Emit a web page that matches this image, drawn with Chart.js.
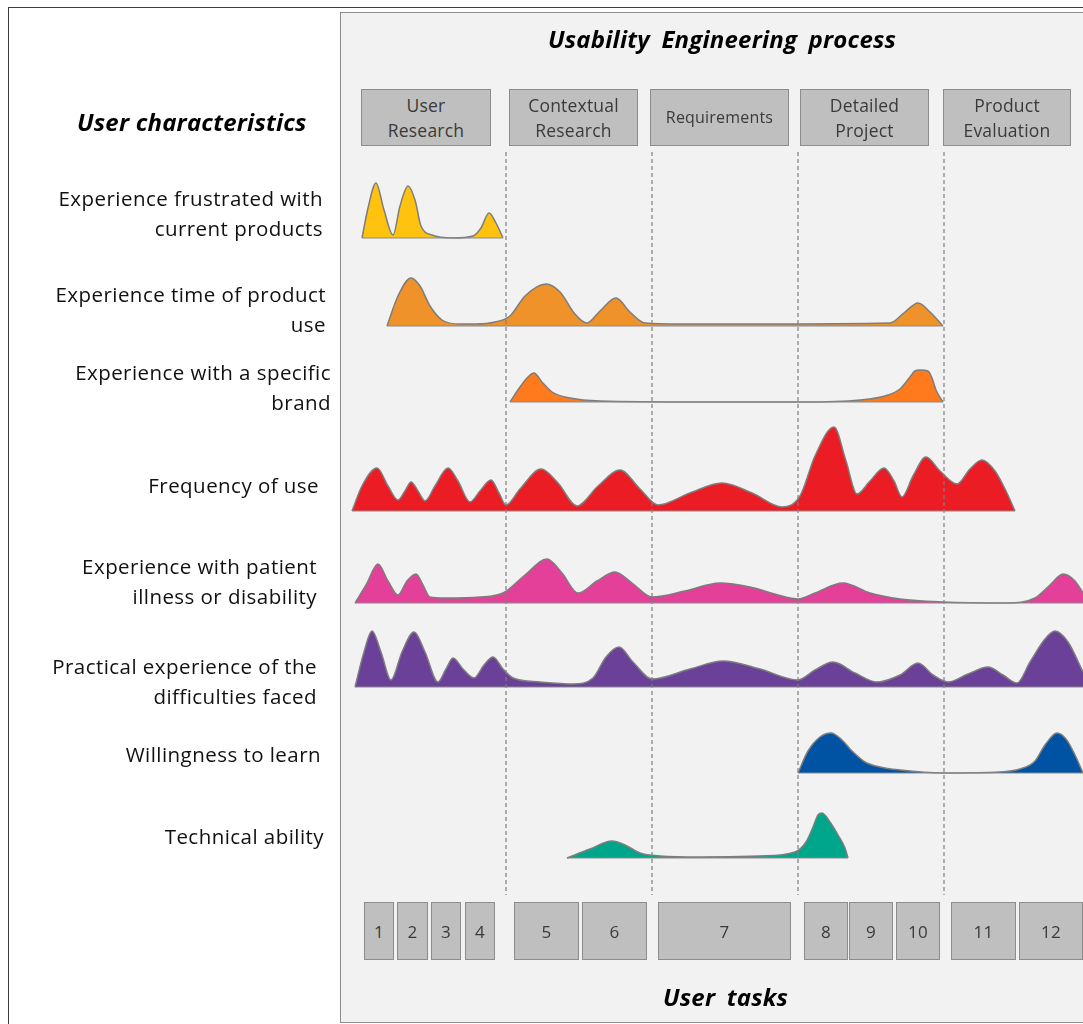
<!DOCTYPE html>
<html>
<head>
<meta charset="utf-8">
<script src="https://cdn.jsdelivr.net/npm/chart.js@4/dist/chart.umd.min.js"></script>
<style>
  body { margin: 0; background: #ffffff; font-family: "Open Sans", sans-serif; }
  #wrap { position: relative; width: 1083px; height: 1024px; overflow: hidden; }
  #frame { position: absolute; left: 8px; top: 7px; width: 1200px; height: 1100px;
           border-left: 1.5px solid #3c3c3c; border-top: 1.5px solid #3c3c3c; }
  #panel { position: absolute; left: 340px; top: 12px; width: 1000px; height: 1009px;
           background: #f2f2f2; border: 1.5px solid #8c8c8c; }
  canvas { position: absolute; left: 0; top: 0; }
  #overlay { position: absolute; left: 0; top: 0; width: 1083px; height: 1024px; }
  .box { position: absolute; box-sizing: border-box; background: #bfbfbf; border: 1.5px solid #8c8c8c;
         display: flex; align-items: center; justify-content: center; text-align: center;
         color: #3a3a3a; font-size: 17px; line-height: 25px; letter-spacing: 0.2px; white-space: pre-line; }
  .head { position: absolute; font-weight: bold; font-style: italic; font-size: 24px; color: #000;
          letter-spacing: 0.2px; word-spacing: 5px; white-space: nowrap; }
  .lab { position: absolute; right: 0; text-align: right; font-size: 20.5px; line-height: 30px; color: #111;
         letter-spacing: 0.45px; white-space: pre-line; }
</style>
</head>
<body>
<div id="wrap">
  <div id="frame"></div>
  <div id="panel"></div>
  <canvas id="c" width="1083" height="1024"></canvas>
  <div id="overlay">
    <div class="head" style="left:548px;top:22px;">Usability Engineering process</div>
    <div class="head" style="left:77px;top:105px;word-spacing:0;">User characteristics</div>
    <div class="head" style="left:663px;top:980px;">User tasks</div>
    <div class="lab" style="right:760px;top:183px;">Experience frustrated with
current products</div>
    <div class="lab" style="right:757px;top:279px;">Experience time of product
use</div>
    <div class="lab" style="right:752px;top:357px;">Experience with a specific
brand</div>
    <div class="lab" style="right:764px;top:470px;">Frequency of use</div>
    <div class="lab" style="right:766px;top:551px;">Experience with patient
illness or disability</div>
    <div class="lab" style="right:766px;top:651px;">Practical experience of the
difficulties faced</div>
    <div class="lab" style="right:762px;top:739px;">Willingness to learn</div>
    <div class="lab" style="right:759px;top:821px;">Technical ability</div>
  </div>
</div>
<script>
// x = position along the process, y = distance from the top (reversed axis)
const rowBaseline = [238, 326, 402, 511, 603, 687, 773, 858];
const ridgeColors = ["#ffc20e", "#f0922a", "#ff7a1c", "#ec1c24", "#e4409a", "#6a4098", "#0052a2", "#00a68c"];

const frustratedX = [362, 368, 376, 384, 393, 400, 408, 415, 421, 432, 453, 473, 481, 489, 496, 503];
const frustratedH = [0, 30, 55, 28, 3, 32, 52, 38, 12, 3, 0, 2, 10, 25, 15, 0];

const timeUseX = [387, 398, 411, 420, 430, 442, 460, 476, 495, 510, 525, 546, 560, 575, 587, 600, 616, 630, 645, 680, 760, 890, 905, 918, 930, 943];
const timeUseH = [0, 30, 48, 40, 20, 6, 2, 2, 4, 10, 30, 42, 34, 12, 3, 15, 28, 14, 3, 2, 2, 3, 14, 23, 14, 0];

const brandX = [510, 520, 527, 534, 542, 552, 570, 600, 700, 800, 860, 885, 900, 910, 915, 920, 928, 932, 936, 943];
const brandH = [0, 15, 24, 29, 20, 10, 4, 1, 0, 0, 2, 6, 13, 25, 31, 32, 31, 24, 12, 0];

const frequencyX = [352, 362, 377, 388, 398, 405, 411, 418, 425, 435, 448, 458, 470, 480, 491, 499, 506, 520, 541, 558, 577, 598, 620, 640, 658, 690, 722, 752, 782, 800, 815, 834, 846, 857, 870, 884, 894, 902, 913, 926, 940, 957, 970, 982, 995, 1006, 1015];
const frequencyH = [0, 25, 43, 25, 11, 20, 29, 20, 10, 25, 43, 30, 9, 20, 31, 18, 6, 22, 42, 28, 5, 25, 41, 22, 6, 18, 28, 18, 4, 15, 55, 84, 50, 17, 30, 43, 30, 14, 35, 54, 40, 27, 42, 51, 40, 20, 0];

const illnessX = [355, 366, 378, 388, 398, 407, 416, 423, 430, 445, 480, 503, 525, 547, 562, 578, 597, 615, 632, 652, 685, 720, 750, 778, 798, 815, 843, 870, 900, 943, 1007, 1035, 1050, 1063, 1075, 1083];
const illnessH = [0, 18, 39, 22, 8, 22, 29, 18, 6, 5, 6, 10, 28, 44, 30, 10, 22, 31, 20, 6, 12, 20, 16, 8, 4, 10, 20, 10, 4, 1, 0, 5, 18, 29, 22, 10];

const difficultiesX = [355, 364, 372, 381, 391, 402, 414, 425, 438, 446, 453, 463, 474, 484, 493, 503, 513, 540, 573, 593, 606, 619, 633, 652, 690, 723, 760, 798, 815, 833, 855, 877, 900, 918, 933, 948, 968, 988, 1003, 1017, 1030, 1045, 1055, 1068, 1083];
const difficultiesH = [0, 35, 56, 35, 7, 35, 55, 35, 5, 18, 29, 18, 9, 22, 30, 18, 9, 5, 3, 9, 30, 40, 25, 8, 18, 26, 18, 7, 17, 25, 14, 5, 12, 24, 12, 5, 13, 20, 12, 4, 25, 48, 56, 45, 15];

const learnX = [798, 808, 820, 831, 842, 852, 865, 880, 900, 943, 1000, 1020, 1035, 1045, 1057, 1066, 1075, 1083];
const learnH = [0, 22, 36, 40, 33, 22, 11, 6, 3, 0, 1, 4, 12, 28, 40, 34, 18, 0];

const technicalX = [567, 590, 612, 625, 640, 660, 700, 760, 795, 806, 813, 818, 822, 830, 838, 845, 848];
const technicalH = [0, 9, 17, 13, 5, 2, 1, 2, 6, 16, 31, 43, 45, 36, 23, 10, 0];

const ridgeX = [frustratedX, timeUseX, brandX, frequencyX, illnessX, difficultiesX, learnX, technicalX];
const ridgeH = [frustratedH, timeUseH, brandH, frequencyH, illnessH, difficultiesH, learnH, technicalH];

const phaseNames = ["User\nResearch", "Contextual\nResearch", "Requirements", "Detailed\nProject", "Product\nEvaluation"];
const phaseStart = [361, 509, 650, 800, 943];
const phaseEnd = [491, 638, 789, 929, 1071];
const phaseTop = 89, phaseBottom = 146;
const phaseBounds = [506, 652, 798, 944];
const boundTop = 152, boundBottom = 895;

const taskLabels = ["1", "2", "3", "4", "5", "6", "7", "8", "9", "10", "11", "12"];
const taskStart = [364, 397, 431, 465, 514, 582, 658, 804, 849, 896, 951, 1019];
const taskEnd = [394, 428, 461, 495, 579, 647, 791, 848, 893, 940, 1016, 1083];
const taskTop = 902, taskBottom = 960;

const datasets = [];
ridgeX.forEach(function (xs, i) {
  const base = rowBaseline[i];
  datasets.push({
    data: xs.map(function (x, j) { return { x: x, y: base - ridgeH[i][j] }; }),
    borderColor: "#7d7d7d",
    borderWidth: 1.5,
    backgroundColor: ridgeColors[i],
    fill: "+1",
    cubicInterpolationMode: "monotone",
    pointRadius: 0,
    order: 1,
  });
  datasets.push({
    data: [{ x: xs[0], y: base }, { x: xs[xs.length - 1], y: base }],
    borderColor: "#8a8a8a",
    borderWidth: 1.2,
    fill: false,
    pointRadius: 0,
    order: 0,
  });
});
phaseBounds.forEach(function (x) {
  datasets.push({
    data: [{ x: x, y: boundTop }, { x: x, y: boundBottom }],
    borderColor: "#7f7f7f",
    borderWidth: 1.2,
    borderDash: [4, 3],
    fill: false,
    pointRadius: 0,
    order: 0,
  });
});

const chart = new Chart(document.getElementById("c").getContext("2d"), {
  type: "line",
  data: { datasets: datasets },
  options: {
    responsive: false,
    animation: false,
    layout: { padding: 0 },
    plugins: { legend: { display: false }, tooltip: { enabled: false } },
    scales: {
      x: { type: "linear", min: 0, max: 1083, display: false },
      y: { type: "linear", min: 0, max: 1024, reverse: true, display: false },
    },
  },
});

// boxes for phases and tasks, placed through the chart's scales
const overlay = document.getElementById("overlay");
function addBox(text, x0, x1, y0, y1, fontSize) {
  const sx = chart.scales.x, sy = chart.scales.y;
  const d = document.createElement("div");
  d.className = "box";
  d.textContent = text;
  d.style.left = sx.getPixelForValue(x0) + "px";
  d.style.width = (sx.getPixelForValue(x1) - sx.getPixelForValue(x0)) + "px";
  d.style.top = sy.getPixelForValue(y0) + "px";
  d.style.height = (sy.getPixelForValue(y1) - sy.getPixelForValue(y0)) + "px";
  if (fontSize) d.style.fontSize = fontSize + "px";
  overlay.appendChild(d);
}
phaseNames.forEach(function (name, i) {
  addBox(name, phaseStart[i], phaseEnd[i], phaseTop, phaseBottom, name === "Requirements" ? 16 : 17.5);
});
taskLabels.forEach(function (t, i) {
  addBox(t, taskStart[i], taskEnd[i], taskTop, taskBottom, 17);
});
</script>
</body>
</html>
